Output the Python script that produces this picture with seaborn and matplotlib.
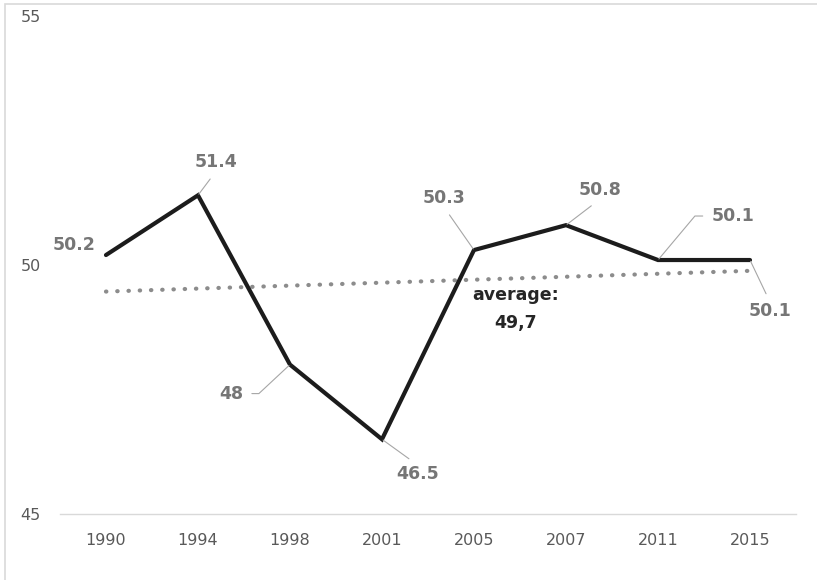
import numpy as np
import pandas as pd
import matplotlib.pyplot as plt
import seaborn as sns
from matplotlib.patches import Rectangle

years = ["1990", "1994", "1998", "2001", "2005", "2007", "2011", "2015"]
values = [50.2, 51.4, 48.0, 46.5, 50.3, 50.8, 50.1, 50.1]
labels = ["50.2", "51.4", "48", "46.5", "50.3", "50.8", "50.1", "50.1"]
avg_text = "average:\n49,7"

sns.set_style("white")
plt.rcParams["font.family"] = ["DejaVu Sans"]

df = pd.DataFrame({"year": years, "value": values})

fig = plt.figure(figsize=(8.17, 5.8), dpi=100)
ax = fig.add_axes([0.0734, 0.1138, 0.9009, 0.8586])

# linear trend line (Excel style dotted)
idx = np.arange(len(values))
slope, icpt = np.polyfit(idx, values, 1)
trend = pd.DataFrame({"year": years, "value": slope * idx + icpt})
sns.lineplot(data=trend, x="year", y="value", ax=ax, color="#8c8c8c",
             linewidth=3, linestyle=(0, (0.1, 2.6)),
             dash_capstyle="round", sort=False)

sns.lineplot(data=df, x="year", y="value", ax=ax, color="#1c1c1c",
             linewidth=3, sort=False, solid_joinstyle="miter")

ax.set_xlim(-0.5, len(years) - 0.5)
ax.set_ylim(45, 55)
ax.set_yticks([45, 50, 55])
ax.set_xlabel("")
ax.set_ylabel("")
for s in ["top", "right", "left"]:
    ax.spines[s].set_visible(False)
ax.spines["bottom"].set_color("#d9d9d9")
ax.spines["bottom"].set_linewidth(1)
ax.tick_params(axis="both", length=0, labelsize=11.5, labelcolor="#595959")
ax.tick_params(axis="x", pad=14)
ax.tick_params(axis="y", pad=14)

# label offsets in pixels and leader settings
offsets = [(-32, 10), (18, 33), (-59, -29), (36, -35),
           (-30, 52), (34, 35), (75, 44), (20, -51)]
leaders = [None,
           dict(relpos=(0.5, 0.0)),
           dict(relpos=(1.0, 0.5), connectionstyle="angle,angleA=0,angleB=43,rad=0"),
           dict(relpos=(0.5, 1.0)),
           dict(relpos=(0.5, 0.0)),
           dict(relpos=(0.5, 0.0)),
           dict(relpos=(0.0, 0.5), connectionstyle="angle,angleA=180,angleB=50,rad=0"),
           dict(relpos=(0.5, 1.0))]

for i, (lab, off, ld) in enumerate(zip(labels, offsets, leaders)):
    kw = {}
    if ld is not None:
        props = dict(arrowstyle="-", color="#a6a6a6", lw=0.8,
                     shrinkA=4, shrinkB=1)
        props.update(ld)
        kw["arrowprops"] = props
    ax.annotate(lab, xy=(i, values[i]), xytext=off, textcoords="offset pixels",
                ha="center", va="center", fontsize=12.5, fontweight="bold",
                color="#767676", **kw)

ax.annotate(avg_text, xy=(4, 50), xytext=(42, -44), textcoords="offset pixels",
            ha="center", va="center", fontsize=12.5, fontweight="bold",
            color="#262626", linespacing=1.7)

# outer frame
fig.patches.append(Rectangle((5 / 817, -0.1), 1.2, 1.1 - 4 / 580 + 0.0,
                             transform=fig.transFigure, fill=False,
                             edgecolor="#d9d9d9", linewidth=1.2))

fig.savefig("out.png", dpi=100)
